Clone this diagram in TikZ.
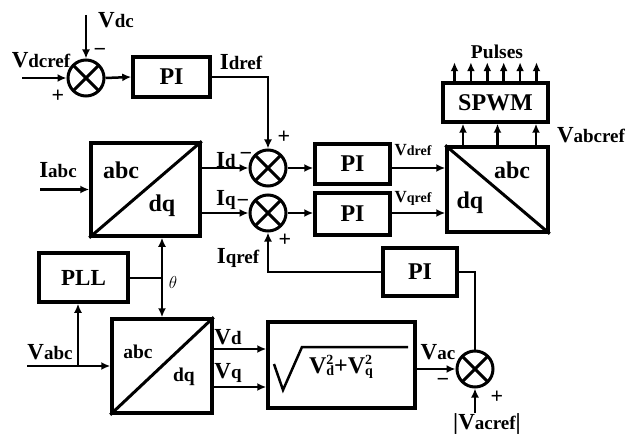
\documentclass[tikz,border=0pt]{standalone}
\usepackage{fontspec}
\setmainfont{Liberation Serif}
\usetikzlibrary{arrows.meta}
\newcommand\fs[1]{\fontsize{#1}{#1}\selectfont}
\newcommand\lb[2]{{\fs{23}#1}{\fs{19}#2}}
\newcommand\lbs[2]{{\fs{17}#1}{\fs{14}#2}}
\newcommand\vsq[1]{V\makebox[0pt][l]{\raisebox{9pt}{\fs{14}2}}\raisebox{-2pt}{\fs{14}#1}}
\newcommand\mysummer[2]{%
  \node[sumn] (#1) at #2 {};
  \draw[line width=3pt, shorten <=1.5pt, shorten >=1.5pt] (#1.north west) -- (#1.south east);
  \draw[line width=3pt, shorten <=1.5pt, shorten >=1.5pt] (#1.north east) -- (#1.south west);}
\begin{document}
\begin{tikzpicture}[x=1pt,y=-1pt, font=\bfseries,
  blk/.style={draw, line width=3.5pt, rectangle, inner sep=0pt},
  sumn/.style={draw, circle, line width=3pt, minimum size=36pt, inner sep=0pt},
  arr/.style={line width=2.5pt, -{Latex[length=9pt,width=8pt]}},
  ln/.style={line width=2.5pt},
  lab/.style={inner sep=0pt},
  sgn/.style={inner sep=0pt, font=\bfseries\fs{22}}]
\useasboundingbox (0,0) rectangle (630,436);

% summers
\mysummer{s1}{(86,78)}
\mysummer{s2}{(268,168)}
\mysummer{s3}{(268,213)}
\mysummer{s4}{(475,369)}

% blocks
\node[blk, minimum width=77pt, minimum height=40pt, font=\bfseries\fs{24}] (pi1) at (171.5,77) {PI};
\node[blk, minimum width=109pt, minimum height=93pt] (t1) at (145.5,189.5) {};
\draw[line width=3pt] (t1.south west) -- (t1.north east);
\node[blk, minimum width=75pt, minimum height=40pt, font=\bfseries\fs{24}] (pi2) at (352.5,164) {PI};
\node[blk, minimum width=75pt, minimum height=42pt, font=\bfseries\fs{24}] (pi3) at (352.5,214) {PI};
\node[blk, minimum width=101pt, minimum height=85pt] (t2) at (497.5,189.5) {};
\draw[line width=3pt] (t2.north west) -- (t2.south east);
\node[blk, minimum width=105pt, minimum height=39pt, font=\bfseries\fs{24}] (spwm) at (495.5,102.5) {SPWM};
\node[blk, minimum width=89pt, minimum height=49pt, font=\bfseries\fs{23}] (pll) at (83.5,277.5) {PLL};
\node[blk, minimum width=100pt, minimum height=94pt] (t3) at (162,366) {};
\draw[line width=3pt] (t3.south west) -- (t3.north east);
\node[blk, minimum width=147pt, minimum height=86pt] (sq) at (341.5,365) {};
\node[blk, minimum width=74pt, minimum height=48pt, font=\bfseries\fs{24}] (pi4) at (420,272) {PI};

% block inner texts
\node[lab, font=\bfseries\fs{24}] (t1a) at (121,170) {abc};
\node[lab, font=\bfseries\fs{24}] (t1b) at (162,206) {dq};
\node[lab, font=\bfseries\fs{24}] (t2a) at (512,170) {abc};
\node[lab, font=\bfseries\fs{24}] (t2b) at (470,203) {dq};
\node[lab, font=\bfseries\fs{19.5}] (t3a) at (138,352) {abc};
\node[lab, font=\bfseries\fs{19.5}] (t3b) at (184,377) {dq};
% square root
\draw[line width=2.5pt, line join=miter] (274,364) -- (283,390) -- (302,347) -- (408,347);
\node[lab, font=\bfseries\fs{24}] (sqt) at (341,367) {\vsq{d}+\vsq{q}};

% connectors
\coordinate (vdcin) at (86,15);
\coordinate (vdcrefin) at (22,78);
\draw[arr] (vdcin) -- (s1.north);
\draw[arr] (vdcrefin) -- (s1.west);
\draw[arr] (s1.east) -- (pi1.west);
\draw[arr] (pi1.east) -| (s2.north);
\coordinate (iabcin) at (40,189.5);
\draw[arr] (iabcin) -- (t1.west);
\draw[arr] (t1.east |- s2.west) -- (s2.west);
\draw[arr] (t1.east |- s3.west) -- (s3.west);
\draw[arr] (s2.east) -- (s2.east -| pi2.west);
\draw[arr] (s3.east) -- (s3.east -| pi3.west);
\draw[arr] (s2.east -| pi2.east) -- (s2.east -| t2.west);
\draw[arr] (s3.east -| pi3.east) -- (s3.east -| t2.west);
\foreach \dx in {-34.5,0,38.5}
  \draw[arr] ([xshift=\dx pt]t2.north) -- ([xshift=\dx pt]t2.north |- spwm.south);
\foreach \dx in {-41,-24.6,-8.2,8.2,24.6,41}
  \draw[arr] ([xshift=\dx pt]spwm.north) -- ++(0,-19);
\coordinate (th) at (162,278);
\draw[ln] (pll.east |- th) -- (th);
\draw[arr] (th) -- (th |- t1.south);
\draw[arr] (th) -- (th |- t3.north);
\coordinate (va) at (27,366);
\coordinate (vb) at (78,366);
\draw[arr] (va) -- (t3.west);
\draw[arr] (vb) -- (vb |- pll.south);
\draw[arr] ([yshift=17pt]t3.east) -- ([yshift=17pt]t3.east -| sq.west);
\draw[arr] ([yshift=-21pt]t3.east) -- ([yshift=-21pt]t3.east -| sq.west);
\draw[arr] (sq.east |- s4.west) -- (s4.west);
\coordinate (vr) at (475,413);
\draw[arr] (vr) -- (s4.south);
\draw[ln] (s4.north) |- (pi4.east);
\draw[arr] (pi4.west) -| (s3.south);

% labels
\node[lab] (lvdc) at (116,20) {\lb{V}{dc}};
\node[lab] (lvdcref) at (41,60) {\lb{V}{dcref}};
\node[sgn] (m1) at (100,52) {−};
\node[sgn] (p1) at (58,96) {+};
\node[lab] (lidref) at (241,62) {\lb{I}{dref}};
\node[sgn] (p2) at (284,137) {+};
\node[lab] (liabc) at (58,170) {\lb{I}{abc}};
\node[lab] (lid) at (226,160) {\lb{I}{d}};
\node[sgn] (m2) at (246,156) {−};
\node[lab] (liq) at (226,200) {\lb{I}{q}};
\node[sgn] (m3) at (243,203) {−};
\node[sgn] (p3) at (285,240) {+};
\node[lab] (liqref) at (238,258) {\lb{I}{qref}};
\node[lab] (lvdref) at (413,150) {\lbs{V}{dref}};
\node[lab] (lvqref) at (413,198) {\lbs{V}{qref}};
\node[lab] (lvabcref) at (591,135) {\lb{V}{abcref}};
\node[lab, font=\bfseries\fs{19.5}] (lpulses) at (497,52) {Pulses};
\node[lab] (ltheta) at (173,282) {\fs{16}$\theta$};
\node[lab] (lvabc) at (50,352) {\lb{V}{abc}};
\node[lab] (lvd) at (228,337) {\lb{V}{d}};
\node[lab] (lvq) at (228,373) {\lb{V}{q}};
\node[lab] (lvac) at (438,352) {\lb{V}{ac}};
\node[sgn] (m4) at (443,382) {−};
\node[sgn] (p4) at (497,397) {+};
\node[lab] (lvacref) at (487,424) {{\fs{23}|}\lb{V}{acref}{\fs{23}|}};
\end{tikzpicture}
\end{document}
